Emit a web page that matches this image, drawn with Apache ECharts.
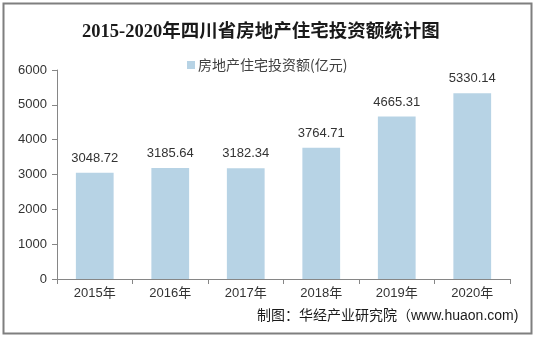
<!DOCTYPE html>
<html>
<head>
<meta charset="utf-8">
<script src="https://cdn.jsdelivr.net/npm/echarts@6/dist/echarts.min.js"></script>
<style>
html,body{margin:0;padding:0;background:#fff;}
#chart{width:536px;height:338px;}
</style>
</head>
<body>
<div id="chart"></div>
<script>
// 四川省房地产住宅投资额（亿元）
const years = ['2015年', '2016年', '2017年', '2018年', '2019年', '2020年'];
const investment = [3048.72, 3185.64, 3182.34, 3764.71, 4665.31, 5330.14];
const yTicks = { min: 0, max: 6000, interval: 1000 };
const seriesName = '房地产住宅投资额(亿元)';
const titleText = '2015-2020年四川省房地产住宅投资额统计图';
const sourceText = '制图：华经产业研究院（www.huaon.com)';

const chart = echarts.init(document.getElementById('chart'), null, { renderer: 'canvas' });

chart.setOption({
  backgroundColor: '#ffffff',
  animation: false,
  title: {
    text: titleText,
    left: 77,
    top: 18,
    textStyle: {
      fontFamily: '"Liberation Serif", "Noto Sans CJK SC", serif',
      fontSize: 18.5,
      fontWeight: 'bold',
      color: '#1a1a1a'
    }
  },
  legend: {
    data: [seriesName],
    left: 182,
    top: 53,
    itemWidth: 8,
    itemHeight: 8,
    itemGap: 4,
    icon: 'rect',
    textStyle: {
      fontFamily: '"Noto Sans CJK SC", sans-serif',
      fontSize: 14,
      color: '#404040',
      padding: [0, 0, 0, -2]
    }
  },
  grid: { left: 57, right: 26, top: 70, bottom: 59 },
  xAxis: {
    type: 'category',
    data: years,
    axisLine: { lineStyle: { color: '#868686', width: 1 } },
    axisTick: { show: true, alignWithLabel: false, length: 5, lineStyle: { color: '#868686' } },
    axisLabel: {
      color: '#333333',
      fontFamily: '"Liberation Sans", "Noto Sans CJK SC", sans-serif',
      fontSize: 13,
      margin: 8
    }
  },
  yAxis: {
    type: 'value',
    min: yTicks.min,
    max: yTicks.max,
    interval: yTicks.interval,
    splitLine: { show: false },
    axisLine: { show: true, lineStyle: { color: '#868686', width: 1 } },
    axisTick: { show: true, length: 5, lineStyle: { color: '#868686' } },
    axisLabel: {
      color: '#333333',
      fontFamily: '"Liberation Sans", sans-serif',
      fontSize: 13,
      margin: 10,
      formatter: v => String(v)
    }
  },
  series: [{
    name: seriesName,
    type: 'bar',
    data: investment,
    barWidth: '50%',
    itemStyle: { color: '#b7d3e5' },
    label: {
      show: true,
      position: 'top',
      distance: 8,
      color: '#333333',
      fontFamily: '"Liberation Sans", sans-serif',
      fontSize: 13,
      formatter: p => p.value.toFixed(2)
    }
  }],
  graphic: [
    {
      type: 'rect',
      silent: true,
      shape: { x: 3.5, y: 3.5, width: 528, height: 330 },
      style: { fill: 'none', stroke: '#7f7f7f', lineWidth: 2 }
    },
    {
      type: 'text',
      left: 257,
      top: 309,
      style: {
        text: sourceText,
        fontFamily: '"Liberation Sans", "Noto Sans CJK SC", sans-serif',
        fontSize: 14,
        fill: '#1a1a1a'
      }
    }
  ]
});
</script>
</body>
</html>
